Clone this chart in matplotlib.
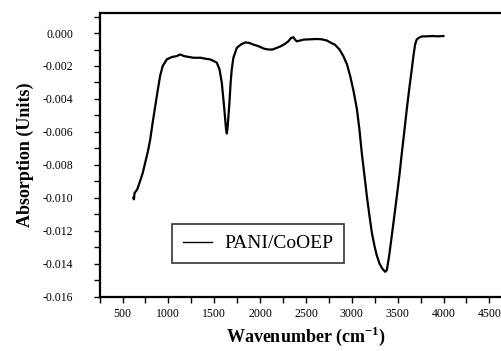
import matplotlib
matplotlib.use("Agg")
import matplotlib.pyplot as plt
from matplotlib.ticker import MultipleLocator, FormatStrFormatter

plt.rcParams['font.family'] = ['Liberation Serif', 'DejaVu Serif']
plt.rcParams['mathtext.fontset'] = 'custom'
plt.rcParams['mathtext.rm'] = 'Liberation Serif'
plt.rcParams['mathtext.bf'] = 'Liberation Serif:bold'

# FTIR spectrum
wavenumber = [618, 624, 632, 647, 660, 691, 720, 746, 776, 801, 827, 855, 883, 910,
              938, 983, 1040, 1091, 1128, 1172, 1222, 1273, 1310, 1354, 1395, 1455,
              1496, 1528, 1557, 1582, 1608, 1628, 1637, 1646, 1666, 1679, 1691, 1709,
              1746, 1790, 1836, 1882, 1927, 1983, 2044, 2091, 2135, 2182, 2226, 2273,
              2308, 2338, 2363, 2381, 2399, 2439, 2472, 2541, 2618, 2673, 2727, 2774,
              2815, 2866, 2908, 2947, 2982, 3018, 3055, 3084, 3109, 3139, 3164, 3190,
              3218, 3246, 3272, 3302, 3332, 3363, 3382, 3408, 3436, 3464, 3491, 3520,
              3545, 3572, 3600, 3626, 3654, 3674, 3690, 3707, 3726, 3768, 3818, 3880,
              3930, 3999]
absorption = [-0.0100, -0.0101, -0.0097, -0.0096, -0.0095, -0.0090, -0.0085, -0.0079,
              -0.0072, -0.0065, -0.0055, -0.0045, -0.0035, -0.0026, -0.0020, -0.0016,
              -0.00145, -0.0014, -0.0013, -0.0014, -0.00145, -0.0015, -0.0015, -0.0015,
              -0.00155, -0.0016, -0.0017, -0.0018, -0.0022, -0.0030, -0.0045, -0.0058,
              -0.0061, -0.0057, -0.0042, -0.0030, -0.0022, -0.0015, -0.0009, -0.0007,
              -0.00057, -0.0006, -0.0007, -0.0008, -0.00095, -0.0010, -0.0010, -0.0009,
              -0.0008, -0.00065, -0.0005, -0.0003, -0.00025, -0.0004, -0.0005, -0.00045,
              -0.0004, -0.00038, -0.00036, -0.00038, -0.00045, -0.0006, -0.0007, -0.0010,
              -0.0014, -0.0019, -0.0026, -0.0035, -0.0046, -0.0059, -0.0073, -0.0087,
              -0.0099, -0.0110, -0.0121, -0.0129, -0.0135, -0.0140, -0.0143, -0.0145,
              -0.0144, -0.0135, -0.0123, -0.0111, -0.0099, -0.0086, -0.0073, -0.0060,
              -0.0046, -0.0034, -0.0022, -0.0013, -0.0007, -0.0004, -0.0003, -0.0002,
              -0.0002, -0.00018, -0.0002, -0.00018]
series_label = "PANI/CoOEP"

fig = plt.figure(figsize=(5.02, 3.51), dpi=100)
# axes run past the right edge of the picture, like the cropped original
ax = fig.add_axes([99.6/502, 54.5/351, 412.7/502, 283.2/351])

ax.plot(wavenumber, absorption, color='black', lw=1.6, label=series_label)

ax.set_xlim(250, 4750)
ax.set_ylim(-0.016, 0.0012)
ax.xaxis.set_major_locator(MultipleLocator(500))
ax.xaxis.set_minor_locator(MultipleLocator(250))
ax.yaxis.set_major_locator(MultipleLocator(0.002))
ax.yaxis.set_minor_locator(MultipleLocator(0.001))
ax.yaxis.set_major_formatter(FormatStrFormatter('%.3f'))

for s in ['left', 'bottom', 'top']:
    ax.spines[s].set_linewidth(1.6)
ax.spines['right'].set_visible(False)

ax.tick_params(which='both', direction='out', length=4, width=1, labelsize=8.5)
ax.tick_params(axis='y', pad=15)
ax.tick_params(axis='x', pad=4)

ax.set_xlabel('Wavenumber (cm$^{\\mathbf{-1}}$)', fontsize=13, fontweight='bold', labelpad=4)
ax.set_ylabel('Absorption (Units)', fontsize=13, fontweight='bold', labelpad=6)

leg = ax.legend(loc='lower left', bbox_to_anchor=(0.175, 0.118), borderaxespad=0,
                fontsize=14, frameon=True, fancybox=False, handlelength=1.5,
                handletextpad=0.65, borderpad=0.55)
leg.get_frame().set_edgecolor('black')
leg.get_frame().set_linewidth(1.2)
for h in leg.get_lines():
    h.set_linewidth(1.0)

fig.savefig('out.png', dpi=100)
